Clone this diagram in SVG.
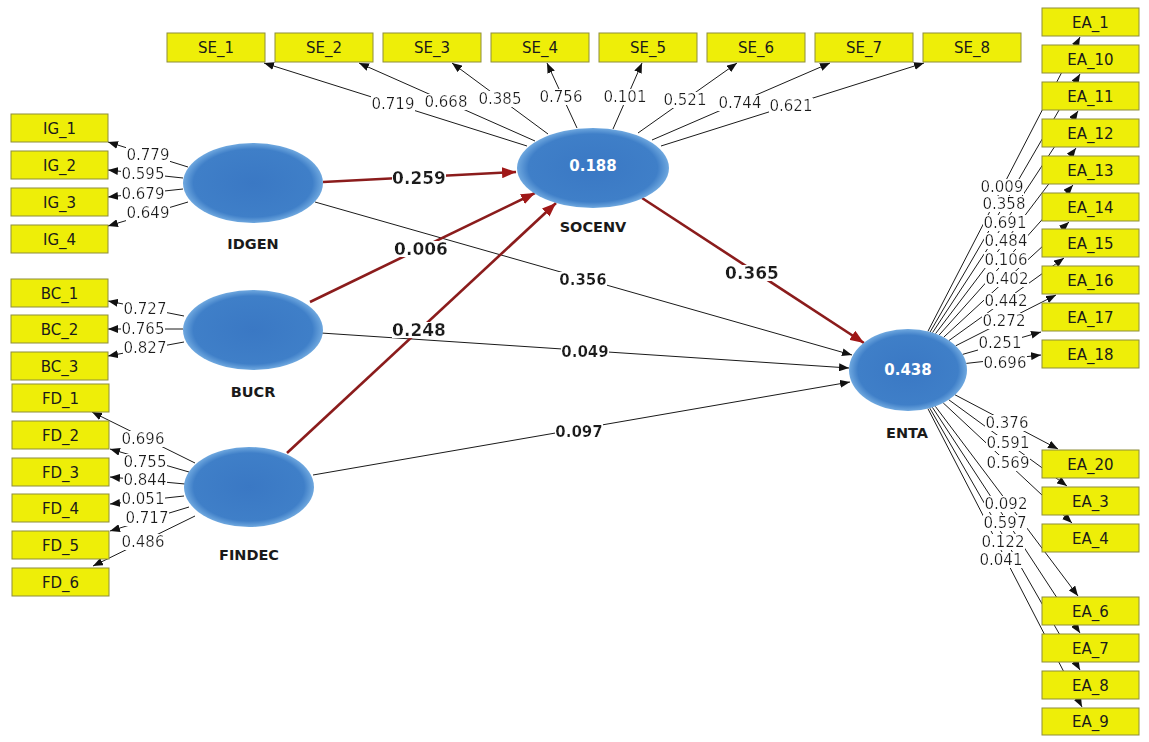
<svg xmlns="http://www.w3.org/2000/svg" width="1149" height="742" viewBox="0 0 1149 742">
<style>
.box{fill:#EEEE08;stroke:#8E8E3A;stroke-width:1}
.bt{font-family:"DejaVu Sans",sans-serif;font-size:15px;fill:#1a1a1a;text-anchor:middle}
.lv{fill:url(#lg)}
.ln{font-family:"DejaVu Sans",sans-serif;font-size:14.5px;font-weight:bold;fill:#1a1a1a;text-anchor:middle}
.r2{font-family:"DejaVu Sans",sans-serif;font-size:15px;font-weight:bold;fill:#ffffff;text-anchor:middle}
.c{stroke:#1a1a1a;stroke-width:1;fill:none;marker-end:url(#ab)}
.cr{stroke:#8B1C1C;stroke-width:2.6;fill:none;marker-end:url(#ar)}
.w{font-family:"DejaVu Sans",sans-serif;font-size:15px;fill:#1a1a1a;text-anchor:middle;filter:url(#bg)}
.wb{font-family:"DejaVu Sans",sans-serif;font-size:15px;font-weight:bold;fill:#1a1a1a;text-anchor:middle;filter:url(#bg)}
.wB{font-family:"DejaVu Sans",sans-serif;font-size:17px;font-weight:bold;fill:#1a1a1a;text-anchor:middle;filter:url(#bg)}
</style>
<defs>
<filter id="bg" x="0" y="0.1" width="1" height="0.8">
<feFlood flood-color="#ffffff"/>
<feComposite in="SourceGraphic" operator="over"/>
</filter>
<radialGradient id="lg" cx="50%" cy="50%" r="50%">
<stop offset="0%" stop-color="#3A78C4"/>
<stop offset="85%" stop-color="#3F7FC8"/>
<stop offset="100%" stop-color="#6FA8DF"/>
</radialGradient>
<marker id="ab" markerUnits="userSpaceOnUse" markerWidth="10" markerHeight="8" refX="10" refY="4" orient="auto">
<path d="M0,0 L10,4 L0,8 Z" fill="#111"/>
</marker>
<marker id="ar" markerUnits="userSpaceOnUse" markerWidth="14" markerHeight="11" refX="14" refY="5.5" orient="auto">
<path d="M0,0 L14,5.5 L0,11 Z" fill="#A01818"/>
</marker>
</defs>
<rect width="1149" height="742" fill="#ffffff"/>

<g id="connectors">
<line class="c" x1="527" y1="146" x2="264" y2="63"/>
<line class="c" x1="535" y1="141" x2="359" y2="63"/>
<line class="c" x1="548" y1="134" x2="452" y2="63"/>
<line class="c" x1="577" y1="128" x2="547" y2="63"/>
<line class="c" x1="613" y1="129" x2="642" y2="63"/>
<line class="c" x1="638" y1="133" x2="737" y2="63"/>
<line class="c" x1="652" y1="140" x2="830" y2="63"/>
<line class="c" x1="661" y1="146" x2="924" y2="63"/>
<line class="c" x1="188" y1="167" x2="108" y2="142"/>
<line class="c" x1="183" y1="178" x2="108" y2="170"/>
<line class="c" x1="183" y1="189" x2="108" y2="197"/>
<line class="c" x1="188" y1="202" x2="108" y2="226"/>
<line class="c" x1="184" y1="316" x2="108" y2="301"/>
<line class="c" x1="183" y1="329" x2="108" y2="329"/>
<line class="c" x1="184" y1="342" x2="108" y2="356"/>
<line class="c" x1="195" y1="463" x2="92" y2="412"/>
<line class="c" x1="189" y1="472" x2="110" y2="449"/>
<line class="c" x1="185" y1="484" x2="110" y2="477"/>
<line class="c" x1="184" y1="496" x2="110" y2="504"/>
<line class="c" x1="189" y1="507" x2="110" y2="531"/>
<line class="c" x1="195" y1="516" x2="93" y2="566"/>
<line class="c" x1="927.9" y1="331.4" x2="1080" y2="37"/>
<line class="c" x1="930.1" y1="332.0" x2="1080" y2="74"/>
<line class="c" x1="932.5" y1="332.7" x2="1078" y2="111"/>
<line class="c" x1="935.5" y1="333.7" x2="1076" y2="148"/>
<line class="c" x1="939.1" y1="335.1" x2="1073" y2="185"/>
<line class="c" x1="943.6" y1="337.3" x2="1069" y2="222"/>
<line class="c" x1="949.0" y1="340.5" x2="1064" y2="258"/>
<line class="c" x1="955.7" y1="345.8" x2="1056" y2="295"/>
<line class="c" x1="962.6" y1="354.4" x2="1041" y2="332"/>
<line class="c" x1="966.3" y1="363.4" x2="1041" y2="355"/>
<line class="c" x1="955.0" y1="394.8" x2="1058" y2="449"/>
<line class="c" x1="948.7" y1="399.7" x2="1067" y2="486"/>
<line class="c" x1="943.2" y1="402.9" x2="1072" y2="523"/>
<line class="c" x1="935.3" y1="406.3" x2="1078" y2="596"/>
<line class="c" x1="932.4" y1="407.3" x2="1080" y2="633"/>
<line class="c" x1="929.8" y1="408.1" x2="1080" y2="670"/>
<line class="c" x1="927.9" y1="408.6" x2="1082" y2="707"/>
<line class="c" x1="315" y1="202" x2="852" y2="355"/>
<line class="c" x1="321" y1="333" x2="849" y2="368"/>
<line class="c" x1="313" y1="475" x2="850" y2="382"/>
<line class="cr" x1="323" y1="182" x2="516" y2="172"/>
<line class="cr" x1="310" y1="302" x2="535" y2="193"/>
<line class="cr" x1="287" y1="453" x2="556" y2="203"/>
<line class="cr" x1="642" y1="198" x2="864" y2="343"/>

<text class="w" x="393" y="109">0.719</text>
<text class="w" x="446" y="107">0.668</text>
<text class="w" x="500" y="104">0.385</text>
<text class="w" x="561" y="102">0.756</text>
<text class="w" x="625" y="102">0.101</text>
<text class="w" x="685" y="105">0.521</text>
<text class="w" x="740" y="108">0.744</text>
<text class="w" x="791" y="111">0.621</text>

<text class="w" x="148" y="160">0.779</text>
<text class="w" x="143" y="179">0.595</text>
<text class="w" x="143" y="199">0.679</text>
<text class="w" x="148" y="218">0.649</text>
<text class="w" x="145" y="314">0.727</text>
<text class="w" x="143" y="334">0.765</text>
<text class="w" x="145" y="353">0.827</text>
<text class="w" x="143" y="444">0.696</text>
<text class="w" x="145" y="467">0.755</text>
<text class="w" x="145" y="485">0.844</text>
<text class="w" x="143" y="504">0.051</text>
<text class="w" x="147" y="523">0.717</text>
<text class="w" x="143" y="547">0.486</text>

<text class="w" x="1002" y="192">0.009</text>
<text class="w" x="1004" y="209">0.358</text>
<text class="w" x="1005" y="228">0.691</text>
<text class="w" x="1006" y="246">0.484</text>
<text class="w" x="1006" y="265">0.106</text>
<text class="w" x="1007" y="284">0.402</text>
<text class="w" x="1006" y="306">0.442</text>
<text class="w" x="1004" y="326">0.272</text>
<text class="w" x="1000" y="348">0.251</text>
<text class="w" x="1005" y="368">0.696</text>
<text class="w" x="1007" y="428">0.376</text>
<text class="w" x="1008" y="448">0.591</text>
<text class="w" x="1008" y="468">0.569</text>
<text class="w" x="1006" y="509">0.092</text>
<text class="w" x="1005" y="528">0.597</text>
<text class="w" x="1003" y="547">0.122</text>
<text class="w" x="1001" y="565">0.041</text>

<text class="wB" x="419" y="184">0.259</text>
<text class="wB" x="421" y="255">0.006</text>
<text class="wB" x="419" y="336">0.248</text>
<text class="wB" x="752" y="279">0.365</text>
<text class="wb" x="583" y="285">0.356</text>
<text class="wb" x="585" y="357">0.049</text>
<text class="wb" x="579" y="437">0.097</text>
</g>

<g id="IDGEN"><ellipse class="lv" cx="253" cy="183" rx="70" ry="40"/><text class="ln" x="253" y="249">IDGEN</text></g>
<g id="BUCR"><ellipse class="lv" cx="253" cy="330" rx="70" ry="40"/><text class="ln" x="253" y="397">BUCR</text></g>
<g id="FINDEC"><ellipse class="lv" cx="249" cy="487" rx="65" ry="40"/><text class="ln" x="249" y="560">FINDEC</text></g>
<g id="SOCENV"><ellipse class="lv" cx="593" cy="168" rx="76" ry="40"/><text class="r2" x="593" y="171">0.188</text><text class="ln" x="593" y="232">SOCENV</text></g>
<g id="ENTA"><ellipse class="lv" cx="908" cy="370" rx="59" ry="41"/><text class="r2" x="908" y="375">0.438</text><text class="ln" x="907" y="438">ENTA</text></g>

<g id="SE_1"><rect class="box" x="167" y="33" width="98" height="29"/><text class="bt" x="216" y="53">SE_1</text></g>
<g id="SE_2"><rect class="box" x="275" y="33" width="98" height="29"/><text class="bt" x="324" y="53">SE_2</text></g>
<g id="SE_3"><rect class="box" x="383" y="33" width="98" height="29"/><text class="bt" x="432" y="53">SE_3</text></g>
<g id="SE_4"><rect class="box" x="491" y="33" width="98" height="29"/><text class="bt" x="540" y="53">SE_4</text></g>
<g id="SE_5"><rect class="box" x="599" y="33" width="98" height="29"/><text class="bt" x="648" y="53">SE_5</text></g>
<g id="SE_6"><rect class="box" x="707" y="33" width="98" height="29"/><text class="bt" x="756" y="53">SE_6</text></g>
<g id="SE_7"><rect class="box" x="815" y="33" width="98" height="29"/><text class="bt" x="864" y="53">SE_7</text></g>
<g id="SE_8"><rect class="box" x="923" y="33" width="98" height="29"/><text class="bt" x="972" y="53">SE_8</text></g>

<g id="IG_1"><rect class="box" x="11" y="114" width="97" height="28"/><text class="bt" x="59.5" y="133.5">IG_1</text></g>
<g id="IG_2"><rect class="box" x="11" y="151" width="97" height="28"/><text class="bt" x="59.5" y="170.5">IG_2</text></g>
<g id="IG_3"><rect class="box" x="11" y="188" width="97" height="28"/><text class="bt" x="59.5" y="207.5">IG_3</text></g>
<g id="IG_4"><rect class="box" x="11" y="225" width="97" height="28"/><text class="bt" x="59.5" y="244.5">IG_4</text></g>
<g id="BC_1"><rect class="box" x="11" y="279" width="97" height="28"/><text class="bt" x="59.5" y="298.5">BC_1</text></g>
<g id="BC_2"><rect class="box" x="11" y="315" width="97" height="28"/><text class="bt" x="59.5" y="334.5">BC_2</text></g>
<g id="BC_3"><rect class="box" x="11" y="352" width="97" height="28"/><text class="bt" x="59.5" y="371.5">BC_3</text></g>
<g id="FD_1"><rect class="box" x="12" y="384" width="97" height="28"/><text class="bt" x="60.5" y="403.5">FD_1</text></g>
<g id="FD_2"><rect class="box" x="12" y="421" width="97" height="28"/><text class="bt" x="60.5" y="440.5">FD_2</text></g>
<g id="FD_3"><rect class="box" x="12" y="458" width="97" height="28"/><text class="bt" x="60.5" y="477.5">FD_3</text></g>
<g id="FD_4"><rect class="box" x="12" y="494" width="97" height="28"/><text class="bt" x="60.5" y="513.5">FD_4</text></g>
<g id="FD_5"><rect class="box" x="12" y="531" width="97" height="28"/><text class="bt" x="60.5" y="550.5">FD_5</text></g>
<g id="FD_6"><rect class="box" x="12" y="568" width="97" height="28"/><text class="bt" x="60.5" y="587.5">FD_6</text></g>

<g id="EA_1"><rect class="box" x="1042" y="8" width="97" height="28"/><text class="bt" x="1090.5" y="27.5">EA_1</text></g>
<g id="EA_10"><rect class="box" x="1042" y="45" width="97" height="28"/><text class="bt" x="1090.5" y="64.5">EA_10</text></g>
<g id="EA_11"><rect class="box" x="1042" y="82" width="97" height="28"/><text class="bt" x="1090.5" y="101.5">EA_11</text></g>
<g id="EA_12"><rect class="box" x="1042" y="119" width="97" height="28"/><text class="bt" x="1090.5" y="138.5">EA_12</text></g>
<g id="EA_13"><rect class="box" x="1042" y="156" width="97" height="28"/><text class="bt" x="1090.5" y="175.5">EA_13</text></g>
<g id="EA_14"><rect class="box" x="1042" y="193" width="97" height="28"/><text class="bt" x="1090.5" y="212.5">EA_14</text></g>
<g id="EA_15"><rect class="box" x="1042" y="229" width="97" height="28"/><text class="bt" x="1090.5" y="248.5">EA_15</text></g>
<g id="EA_16"><rect class="box" x="1042" y="266" width="97" height="28"/><text class="bt" x="1090.5" y="285.5">EA_16</text></g>
<g id="EA_17"><rect class="box" x="1042" y="303" width="97" height="28"/><text class="bt" x="1090.5" y="322.5">EA_17</text></g>
<g id="EA_18"><rect class="box" x="1042" y="340" width="97" height="28"/><text class="bt" x="1090.5" y="359.5">EA_18</text></g>
<g id="EA_20"><rect class="box" x="1042" y="450" width="97" height="28"/><text class="bt" x="1090.5" y="469.5">EA_20</text></g>
<g id="EA_3"><rect class="box" x="1042" y="487" width="97" height="28"/><text class="bt" x="1090.5" y="506.5">EA_3</text></g>
<g id="EA_4"><rect class="box" x="1042" y="524" width="97" height="28"/><text class="bt" x="1090.5" y="543.5">EA_4</text></g>
<g id="EA_6"><rect class="box" x="1042" y="597" width="97" height="28"/><text class="bt" x="1090.5" y="616.5">EA_6</text></g>
<g id="EA_7"><rect class="box" x="1042" y="634" width="97" height="28"/><text class="bt" x="1090.5" y="653.5">EA_7</text></g>
<g id="EA_8"><rect class="box" x="1042" y="671" width="97" height="28"/><text class="bt" x="1090.5" y="690.5">EA_8</text></g>
<g id="EA_9"><rect class="box" x="1042" y="708" width="97" height="27"/><text class="bt" x="1090.5" y="727">EA_9</text></g>
</svg>
